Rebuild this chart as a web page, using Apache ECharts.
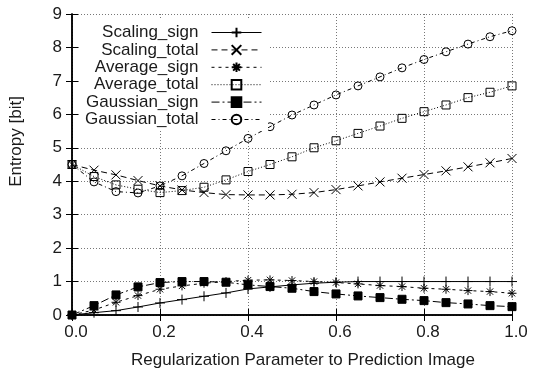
<!DOCTYPE html>
<html>
<head>
<meta charset="utf-8">
<script src="https://cdn.jsdelivr.net/npm/echarts@6.0.0/dist/echarts.min.js"></script>
<style>
  html, body { margin: 0; padding: 0; background: #fff; }
  #chart { width: 537px; height: 372px; }
</style>
</head>
<body>
<div id="chart"></div>
<script>
const xValues = [0, 0.05, 0.1, 0.15, 0.2, 0.25, 0.3, 0.35, 0.4, 0.45, 0.5, 0.55, 0.6, 0.65, 0.7, 0.75, 0.8, 0.85, 0.9, 0.95, 1.0]

const scalingSign = [0, 0.07, 0.13, 0.24, 0.36, 0.46, 0.56, 0.66, 0.78, 0.84, 0.9, 0.95, 0.98, 1.0, 1.0, 1.0, 1.0, 1.0, 1.0, 1.0, 1.0]
const scalingTotal = [4.5, 4.33, 4.19, 4.02, 3.86, 3.74, 3.66, 3.6, 3.59, 3.59, 3.61, 3.66, 3.75, 3.86, 3.98, 4.09, 4.2, 4.31, 4.43, 4.55, 4.68]
const averageSign = [0, 0.15, 0.38, 0.58, 0.77, 0.87, 0.95, 1.0, 1.04, 1.05, 1.03, 1.0, 0.97, 0.93, 0.88, 0.85, 0.8, 0.77, 0.73, 0.7, 0.65]
const averageTotal = [4.5, 4.14, 3.89, 3.76, 3.66, 3.72, 3.82, 4.04, 4.29, 4.5, 4.73, 5.0, 5.21, 5.43, 5.65, 5.88, 6.08, 6.28, 6.5, 6.66, 6.85]
const gaussianSign = [0, 0.28, 0.6, 0.84, 0.97, 1.0, 1.0, 0.98, 0.9, 0.85, 0.8, 0.7, 0.63, 0.57, 0.52, 0.47, 0.43, 0.37, 0.33, 0.28, 0.25]
const gaussianTotal = [4.5, 3.98, 3.69, 3.65, 3.86, 4.16, 4.53, 4.91, 5.28, 5.63, 5.98, 6.28, 6.58, 6.85, 7.12, 7.39, 7.64, 7.87, 8.1, 8.32, 8.5]

const seriesNames = ['Scaling_sign', 'Scaling_total', 'Average_sign', 'Average_total', 'Gaussian_sign', 'Gaussian_total']
const seriesValues = [scalingSign, scalingTotal, averageSign, averageTotal, gaussianSign, gaussianTotal]

const font = 'Liberation Sans'
const ink = '#1a1a1a'

// marker + dash pattern per series, gnuplot style
const looks = [
  { symbol: 'path://M0,5L10,5M5,0L5,10', size: 10, dash: 'solid', fill: 'transparent' },
  { symbol: 'path://M0,0L10,10M10,0L0,10', size: 9, dash: [6, 4], fill: 'transparent' },
  { symbol: 'path://M0,5L10,5M5,0L5,10M1.5,1.5L8.5,8.5M8.5,1.5L1.5,8.5', size: 9, dash: [3, 4], fill: 'transparent' },
  { symbol: 'rect', size: 8, dash: [1, 2], fill: 'transparent' },
  { symbol: 'rect', size: 8, dash: [8, 3, 2, 3], fill: '#000' },
  { symbol: 'circle', size: 8, dash: [4, 3, 1, 3], fill: 'transparent' },
]

const chart = echarts.init(document.getElementById('chart'))

const series = seriesNames.map((name, i) => ({
  name: name,
  type: 'line',
  data: xValues.map((x, j) => [x, seriesValues[i][j]]),
  symbol: looks[i].symbol,
  symbolSize: looks[i].size,
  showAllSymbol: true,
  lineStyle: { color: '#000', width: 1, type: looks[i].dash },
  itemStyle: { color: looks[i].fill, borderColor: '#000', borderWidth: 1 },
  emphasis: { disabled: true },
  animation: false,
}))

const option = {
  animation: false,
  textStyle: { fontFamily: font },
  grid: { left: 72, right: 25, top: 14, bottom: 57, outerBoundsMode: 'none', containLabel: false },
  legend: {
    data: seriesNames,
    orient: 'vertical',
    align: 'right',
    right: 269,
    top: 20,
    padding: [4, 6, 3, 6],
    backgroundColor: '#fff',
    itemWidth: 50,
    itemHeight: 12,
    itemGap: 0.4,
    selectedMode: false,
    lineStyle: { width: 1 },
    textStyle: { fontFamily: font, fontSize: 17, color: ink, padding: [0, 8, 0, 0] },
  },
  xAxis: [
    {
      type: 'value',
      min: 0,
      max: 1,
      interval: 0.2,
      name: 'Regularization Parameter to Prediction Image',
      nameLocation: 'middle',
      nameGap: 37,
      nameTextStyle: { fontFamily: font, fontSize: 17, color: ink, padding: [0, 0, 0, 22] },
      axisLine: { lineStyle: { color: '#000', width: 1.5 } },
      axisTick: { inside: true, length: 6, lineStyle: { color: '#000' } },
      axisLabel: { fontFamily: font, fontSize: 17, color: ink, margin: 9, padding: [0, 0, 0, 8], formatter: v => v.toFixed(1) },
      splitLine: { show: true, lineStyle: { color: '#777', type: [1, 2], width: 1 } },
    },
    {
      type: 'value',
      position: 'top',
      min: 0,
      max: 1,
      interval: 0.2,
      axisLine: { lineStyle: { color: '#000', width: 1.5 } },
      axisTick: { inside: true, length: 6, lineStyle: { color: '#000' } },
      axisLabel: { show: false },
      splitLine: { show: false },
    },
  ],
  yAxis: [
    {
      type: 'value',
      min: 0,
      max: 9,
      interval: 1,
      name: 'Entropy [bit]',
      nameLocation: 'middle',
      nameGap: 47,
      nameTextStyle: { fontFamily: font, fontSize: 17, color: ink, padding: [0, 0, 0, 46] },
      axisLine: { show: true, lineStyle: { color: '#000', width: 1.5 } },
      axisTick: { show: true, inside: true, length: 6, lineStyle: { color: '#000' } },
      axisLabel: { fontFamily: font, fontSize: 17, color: ink, margin: 10 },
      splitLine: { show: true, lineStyle: { color: '#777', type: [1, 2], width: 1 } },
    },
    {
      type: 'value',
      position: 'right',
      min: 0,
      max: 9,
      interval: 1,
      axisLine: { show: true, lineStyle: { color: '#000', width: 1.5 } },
      axisTick: { show: true, inside: true, length: 6, lineStyle: { color: '#000' } },
      axisLabel: { show: false },
      splitLine: { show: false },
    },
  ],
  series: series,
}

chart.setOption(option)
</script>
</body>
</html>
